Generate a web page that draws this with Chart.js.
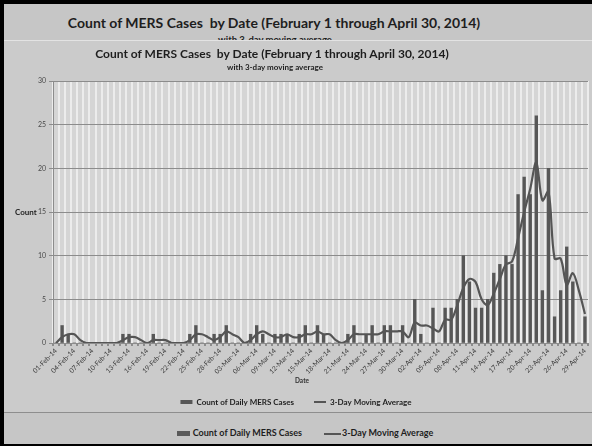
<!DOCTYPE html>
<html>
<head>
<meta charset="utf-8">
<script src="https://cdn.jsdelivr.net/npm/chart.js@4.4.1/dist/chart.umd.min.js"></script>
<style>
  html, body { margin: 0; padding: 0; }
  body {
    width: 592px; height: 446px; overflow: hidden; position: relative;
    background: #c6c6c6; font-family: Lato, "Open Sans", sans-serif; color: #1e1e1e;
  }
  .frame {
    position: absolute; left: 0; top: 0; width: 592px; height: 446px; box-sizing: border-box;
    border-left: 4px solid #000; border-top: 4px solid #000; border-bottom: 2px solid #000;
    z-index: 10; pointer-events: none;
  }
  .txt { position: absolute; white-space: pre; text-align: center; font-weight: 700; line-height: 1.2; }
  #outerTitle { left: 0; width: 548px; top: 15px; font-size: 14px; }
  #outerSub { left: 0; width: 550px; top: 34px; font-size: 9.5px; }
  #panel {
    position: absolute; left: 4px; top: 40px; width: 588px; height: 373px;
    background: #cbcbcb; z-index: 2;
  }
  #panel .topEdge { position: absolute; left: 0; top: 0; width: 588px; height: 1px; background: #e3e3e3; }
  #panel .bottomEdge { position: absolute; left: 0; bottom: 0; width: 588px; height: 1px; background: #8e8e8e; }
  #panel canvas { position: absolute; left: 0; top: 0; }
  #innerTitle { left: 0; width: 536px; top: 7px; font-size: 12px; }
  #innerSub { left: 0; width: 542px; top: 23px; font-size: 8px; }
  #outerLegend {
    position: absolute; left: 0; width: 610px; top: 427px; text-align: center;
    font-weight: 700; font-size: 9px; white-space: pre; line-height: 12px;
  }
  #outerLegend .swatch { display: inline-block; width: 13px; height: 5px; background: #5a5a5a; vertical-align: middle; margin-right: 3px; }
  #outerLegend .dash { display: inline-block; width: 17px; height: 2px; background: #555; vertical-align: middle; margin-right: 1px; margin-left: 22px; }
</style>
</head>
<body>
<div class="txt" id="outerTitle">Count of MERS Cases  by Date (February 1 through April 30, 2014)</div>
<div class="txt" id="outerSub">with 3-day moving average</div>
<div id="panel">
  <canvas id="chart" width="588" height="373"></canvas>
  <div class="txt" id="innerTitle">Count of MERS Cases  by Date (February 1 through April 30, 2014)</div>
  <div class="txt" id="innerSub">with 3-day moving average</div>
  <div class="topEdge"></div>
  <div class="bottomEdge"></div>
</div>
<div id="outerLegend"><span class="swatch"></span>Count of Daily MERS Cases<span class="dash"></span>3-Day Moving Average</div>
<div class="frame"></div>

<script>
// Reporting dates, 1 February to 29 April 2014
const dateLabels = [
  '01-Feb-14','02-Feb-14','03-Feb-14','04-Feb-14','05-Feb-14','06-Feb-14','07-Feb-14','08-Feb-14','09-Feb-14','10-Feb-14',
  '11-Feb-14','12-Feb-14','13-Feb-14','14-Feb-14','15-Feb-14','16-Feb-14','17-Feb-14','18-Feb-14','19-Feb-14','20-Feb-14',
  '21-Feb-14','22-Feb-14','23-Feb-14','24-Feb-14','25-Feb-14','26-Feb-14','27-Feb-14','28-Feb-14',
  '01-Mar-14','02-Mar-14','03-Mar-14','04-Mar-14','05-Mar-14','06-Mar-14','07-Mar-14','08-Mar-14','09-Mar-14','10-Mar-14',
  '11-Mar-14','12-Mar-14','13-Mar-14','14-Mar-14','15-Mar-14','16-Mar-14','17-Mar-14','18-Mar-14','19-Mar-14','20-Mar-14',
  '21-Mar-14','22-Mar-14','23-Mar-14','24-Mar-14','25-Mar-14','26-Mar-14','27-Mar-14','28-Mar-14','29-Mar-14','30-Mar-14','31-Mar-14',
  '01-Apr-14','02-Apr-14','03-Apr-14','04-Apr-14','05-Apr-14','06-Apr-14','07-Apr-14','08-Apr-14','09-Apr-14','10-Apr-14',
  '11-Apr-14','12-Apr-14','13-Apr-14','14-Apr-14','15-Apr-14','16-Apr-14','17-Apr-14','18-Apr-14','19-Apr-14','20-Apr-14',
  '21-Apr-14','22-Apr-14','23-Apr-14','24-Apr-14','25-Apr-14','26-Apr-14','27-Apr-14','28-Apr-14','29-Apr-14'
];

// Daily case counts
const dailyCases = [
  0,2,1,0,0,0,0,0,0,0, 0,1,1,0,0,0,1,0,0,0, 0,0,1,2,0,0,1,1,
  2,0,0,0,1,2,1,0,1,1, 1,0,1,2,0,2,1,0,0,0, 1,2,0,1,2,0,2,2,0,2,0,
  5,1,0,4,0,4,4,5,10,7, 4,4,5,8,9,10,9,17,19,17, 26,6,20,3,6,11,7,0,3
];

// Trailing 3-day moving average of the daily counts
const movingAverage = [
  0,0.67,1,1,0.33,0,0,0,0,0, 0,0.33,0.67,0.67,0.33,0,0.33,0.33,0.33,0, 0,0,0.33,1,1,0.67,0.33,0.67,
  1.33,1,0.67,0,0.33,1,1.33,1,0.67,0.67, 1,0.67,0.67,1,1,1.33,1,1,0.33,0, 0.33,1,1,1,1,1,1.33,1.33,1.33,1.33,0.67,
  2.33,2,2,1.67,1.33,2.67,2.67,4.33,6.33,7.33, 7,5,4.33,5.67,7.33,9,9.33,12,15,17.67, 20.67,16.33,17.33,9.67,9.67,6.67,8,6,3.33
];

const yTicks = [0, 5, 10, 15, 20, 25, 30];
const tickStep = 3;           // a date label on every third day
const seriesNames = ['Count of Daily MERS Cases', '3-Day Moving Average'];
const axisNames = { x: 'Date', y: 'Count' };

const FONT = 'Lato, "Open Sans", sans-serif';

// grey plot-area fill
const plotBackground = {
  id: 'plotBackground',
  beforeDraw(chart) {
    const { ctx, chartArea: a } = chart;
    ctx.save();
    ctx.fillStyle = '#d5d5d5';
    ctx.fillRect(a.left, a.top, a.right - a.left, a.bottom - a.top);
    ctx.restore();
  }
};

// horizontal axis names: "Count" left of the value axis, "Date" under the dates
const axisNameLabels = {
  id: 'axisNameLabels',
  afterDraw(chart) {
    const { ctx, scales } = chart;
    ctx.save();
    ctx.fillStyle = '#1e1e1e';
    ctx.textBaseline = 'middle';
    ctx.font = 'bold 8px ' + FONT;
    ctx.textAlign = 'left';
    ctx.fillText(axisNames.y, 11, scales.y.getPixelForValue(15));
    ctx.font = 'bold 6.5px ' + FONT;
    ctx.textAlign = 'center';
    ctx.fillStyle = '#333';
    ctx.fillText(axisNames.x, 298, 341);
    ctx.restore();
  }
};

new Chart(document.getElementById('chart'), {
  data: {
    labels: dateLabels,
    datasets: [
      {
        type: 'bar', label: seriesNames[0], data: dailyCases,
        backgroundColor: '#575757', borderWidth: 0, barThickness: 2.7, order: 2
      },
      {
        type: 'line', label: seriesNames[1], data: movingAverage,
        borderColor: '#555555', backgroundColor: '#555555', borderWidth: 2.2,
        tension: 0.35, pointRadius: 0, fill: false, order: 1
      }
    ]
  },
  options: {
    responsive: false,
    animation: false,
    devicePixelRatio: 1,
    layout: { padding: { top: 41, right: 4, left: 0, bottom: 0 } },
    plugins: {
      title: { display: false },
      tooltip: { enabled: false },
      legend: {
        position: 'bottom',
        maxHeight: 35,
        labels: {
          usePointStyle: true,
          pointStyleWidth: 12,
          boxHeight: 4,
          padding: 20,
          color: '#1e1e1e',
          font: { family: FONT, size: 8, weight: 'bold' },
          sort: (a, b) => a.datasetIndex - b.datasetIndex,
          generateLabels(chart) {
            const items = Chart.defaults.plugins.legend.labels.generateLabels(chart);
            items.forEach(it => {
              if (it.datasetIndex === 0) {
                it.pointStyle = 'rect'; it.lineWidth = 0; it.fillStyle = '#575757';
              } else {
                it.pointStyle = 'line'; it.lineWidth = 2; it.strokeStyle = '#555555';
              }
            });
            return items;
          }
        }
      }
    },
    scales: {
      x: {
        offset: true,
        grid: { display: true, offset: true, color: '#ececec', lineWidth: 2, drawTicks: true, tickLength: 3, tickColor: '#8c8c8c' },
        border: { color: '#8c8c8c', width: 1 },
        ticks: {
          autoSkip: false, maxRotation: 45, minRotation: 45, padding: 1,
          color: '#3a3a3a', font: { family: FONT, size: 6.7 },
          callback(value, index) { return index % tickStep === 0 ? this.getLabelForValue(value) : ''; }
        },
        afterFit(scale) { scale.height = 35; }
      },
      y: {
        min: yTicks[0], max: yTicks[yTicks.length - 1],
        afterBuildTicks(scale) { scale.ticks = yTicks.map(v => ({ value: v })); },
        grid: { color: '#8c8c8c', lineWidth: 1, tickLength: 4, tickColor: '#8c8c8c' },
        border: { color: '#8c8c8c', width: 1 },
        ticks: { color: '#4a4a4a', padding: 3, font: { family: FONT, size: 7 } },
        afterFit(scale) { scale.width = 49; }
      }
    }
  },
  plugins: [plotBackground, axisNameLabels]
});
</script>
</body>
</html>
